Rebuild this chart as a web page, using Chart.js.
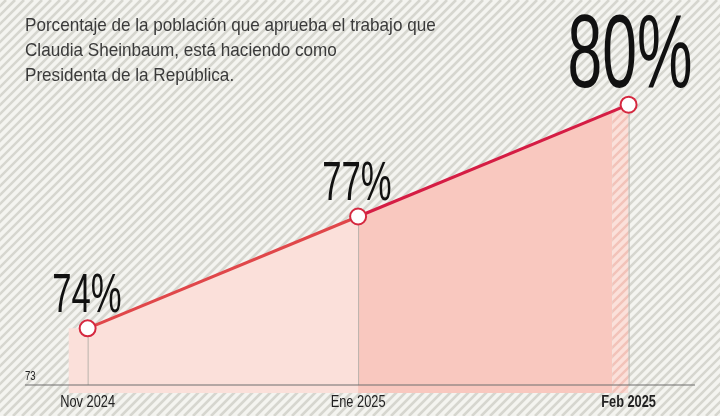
<!DOCTYPE html>
<html><head><meta charset="utf-8">
<script src="https://cdn.jsdelivr.net/npm/chart.js@4"></script>
<style>html,body{margin:0;padding:0;background:#f4f4f0}#c{display:block}</style>
</head><body>
<canvas id="c" width="720" height="416"></canvas>
<script>
// datos
const categorias = ['Nov 2024', 'Ene 2025', 'Feb 2025'];
const aprobacion = [74, 77, 80];
const etiquetas = ['74%', '77%', '80%'];
const ejeY = [73];
const titulo = ['Porcentaje de la población que aprueba el trabajo que', 'Claudia Sheinbaum, está haciendo como', 'Presidenta de la República.'];

function hatch(ctx, x0, y0, x1, y1, bg, fg) {
    ctx.save();
    ctx.beginPath(); ctx.rect(x0, y0, x1 - x0, y1 - y0); ctx.clip();
    ctx.fillStyle = bg; ctx.fillRect(x0, y0, x1 - x0, y1 - y0);
    ctx.strokeStyle = fg; ctx.lineWidth = 2.6;
    for (let s = -500; s < 1300; s += 9) {
        ctx.beginPath(); ctx.moveTo(s, 416); ctx.lineTo(s + 416, 0); ctx.stroke();
    }
    ctx.restore();
}

// texto condensado
function narrow(ctx, t, x, y, size, sx, bold) {
    ctx.save();
    ctx.font = (bold ? 'bold ' : '') + size + 'px "Liberation Sans", sans-serif';
    ctx.translate(x, y); ctx.scale(sx, 1);
    ctx.fillText(t, 0, 0);
    ctx.restore();
}

const decor = {
    id: 'decor',
    beforeDraw(chart) {
        const ctx = chart.ctx, x = chart.scales.x, y = chart.scales.y;
        hatch(ctx, 0, 0, 720, 416, '#f4f4f0', '#d6d6cf');
        const px = aprobacion.map((v, i) => x.getPixelForValue(i));
        const py = aprobacion.map(v => y.getPixelForValue(v));
        const base = 393;
        const left = x.getPixelForValue(-0.07);
        const bandL = x.getPixelForValue(1.94);
        const yAt = t => py[1] + (py[2] - py[1]) * t;
        ctx.fillStyle = '#fbe0da';
        ctx.beginPath();
        ctx.moveTo(left, base); ctx.lineTo(left, py[0]); ctx.lineTo(px[0], py[0]);
        ctx.lineTo(px[1], py[1]); ctx.lineTo(px[1], base); ctx.fill();
        ctx.fillStyle = '#f9c8bf';
        ctx.beginPath();
        ctx.moveTo(px[1], base); ctx.lineTo(px[1], py[1]);
        ctx.lineTo(bandL, yAt(0.94)); ctx.lineTo(bandL, base); ctx.fill();
        ctx.save();
        ctx.beginPath();
        ctx.moveTo(bandL, base); ctx.lineTo(bandL, yAt(0.94)); ctx.lineTo(px[2], py[2]); ctx.lineTo(px[2], base);
        ctx.clip();
        hatch(ctx, bandL, 0, px[2], base, '#fbe0da', '#f2c3b9');
        ctx.restore();
        const yb = y.getPixelForValue(y.min);
        ctx.strokeStyle = '#b9b3ad'; ctx.lineWidth = 1;
        px.forEach((p, i) => { ctx.beginPath(); ctx.moveTo(p + 0.5, py[i]); ctx.lineTo(p + 0.5, yb); ctx.stroke(); });
        ctx.strokeStyle = '#6e6e6e'; ctx.lineWidth = 1.2;
        ctx.beginPath(); ctx.moveTo(25, yb); ctx.lineTo(695, yb); ctx.stroke();
    },
    afterDraw(chart) {
        const ctx = chart.ctx, x = chart.scales.x, y = chart.scales.y;
        ctx.fillStyle = '#222';
        ctx.textBaseline = 'alphabetic';
        ctx.textAlign = 'left';
        ejeY.forEach(v => narrow(ctx, String(v), 25, y.getPixelForValue(y.min) - 5, 12, 0.8));
        ctx.textAlign = 'center';
        categorias.forEach((c, i) => narrow(ctx, c, x.getPixelForValue(i), 407, 16, 0.8, i === 2));
        ctx.textAlign = 'left';
        ctx.fillStyle = '#3a3a3a';
        titulo.forEach((t, i) => narrow(ctx, t, 25, 31 + i * 25, 19, 0.9));
        ctx.fillStyle = '#111';
        ctx.textAlign = 'center';
        const sizes = [56, 56, 104];
        const sx = [0.62, 0.62, 0.6];
        const cx = [87, 357, 630];
        const by = [312, 200, 87];
        etiquetas.forEach((t, i) => narrow(ctx, t, cx[i], by[i], sizes[i], sx[i]));
    }
};

new Chart(document.getElementById('c'), {
    type: 'line',
    data: {
        datasets: [{
            data: aprobacion.map((v, i) => ({ x: i, y: v })),
            borderWidth: 3,
            segment: { borderColor: c => c.p0DataIndex === 0 ? '#e0474a' : '#d51d44' },
            borderColor: '#d51d44',
            pointRadius: 8,
            pointBorderWidth: 2,
            pointBackgroundColor: '#ffffff',
            pointBorderColor: '#d5283f',
            tension: 0
        }]
    },
    options: {
        responsive: false,
        animation: false,
        layout: { padding: { top: 0, bottom: 31, left: 0, right: 0 } },
        scales: {
            x: { type: 'linear', display: false, min: -0.287, max: 2.301 },
            y: { display: false, min: 72.48, max: 82.54 }
        },
        plugins: { legend: { display: false }, tooltip: { enabled: false } }
    },
    plugins: [decor]
});
</script>
</body></html>
